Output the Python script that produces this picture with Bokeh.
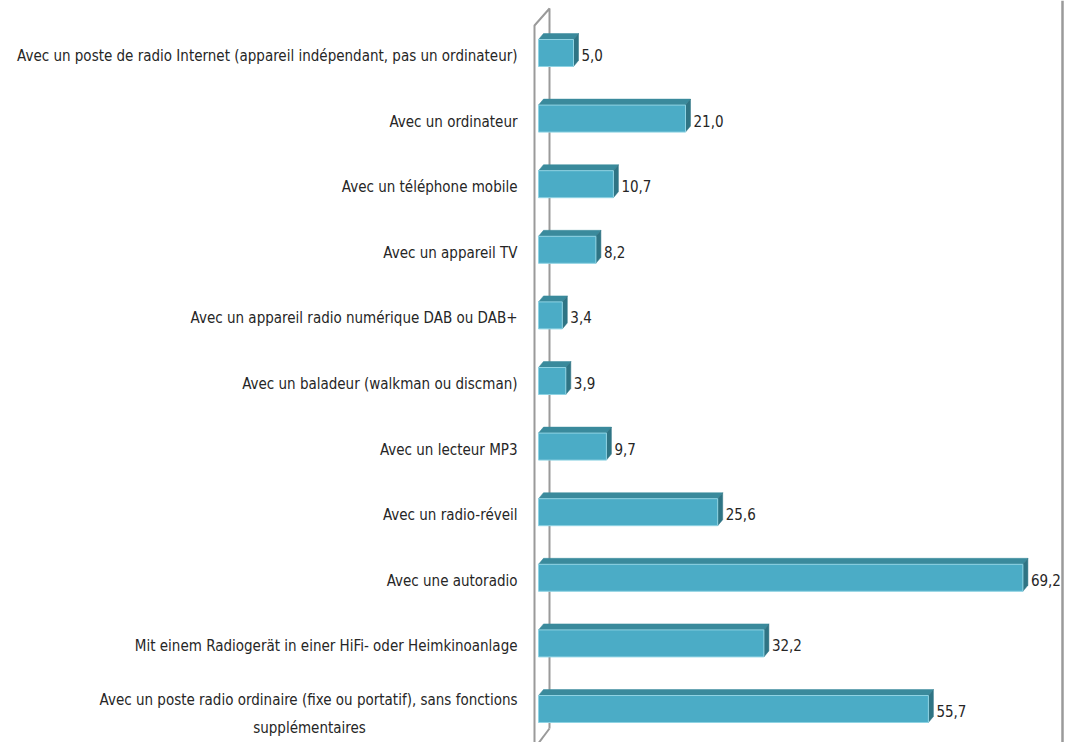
from bokeh.plotting import figure
from bokeh.models import Range1d, ColumnDataSource
from bokeh.embed import file_html
from bokeh.resources import INLINE
from bokeh.core.properties import value

# ---- data (top to bottom) ----
categories = [
    "Avec un poste de radio Internet (appareil indépendant, pas un ordinateur)",
    "Avec un ordinateur",
    "Avec un téléphone mobile",
    "Avec un appareil TV",
    "Avec un appareil radio numérique DAB ou DAB+",
    "Avec un baladeur (walkman ou discman)",
    "Avec un lecteur MP3",
    "Avec un radio-réveil",
    "Avec une autoradio",
    "Mit einem Radiogerät in einer HiFi- oder Heimkinoanlage",
    "Avec un poste radio ordinaire (fixe ou portatif), sans fonctions\nsupplémentaires",
]
values = [5.0, 21.0, 10.7, 8.2, 3.4, 3.9, 9.7, 25.6, 69.2, 32.2, 55.7]
value_labels = [f"{v:.1f}".replace(".", ",") for v in values]

# ---- layout constants (pixels) ----
W, H = 1072, 742
X0_PX = 538          # canvas x of value zero
PX_PER_UNIT = 7.0    # pixels per value unit
Y0_PX = 52.5         # canvas y of first category centre
PX_PER_CAT = 65.6    # pixels between categories
BAR_PX = 27
DEPTH_DX, DEPTH_DY = 5, 6

FONT = "'DejaVu Sans Condensed', Roboto"
FS = "15px"
TXT = "#262626"
FRONT = "#4bacc6"
TOP = "#3a8a9c"
SIDE = "#2f7484"
EDGE = "#8fd3e3"
WALL = "#9a9a9a"

def ux(px):  # pixel distance -> x units
    return px / PX_PER_UNIT

def uy(px):  # pixel distance -> y units
    return px / PX_PER_CAT

x_start = -ux(X0_PX)
x_end = ux(W - X0_PX)
y_top = -uy(Y0_PX)
y_bot = uy(H - Y0_PX)

p = figure(width=W, height=H, output_backend="svg", toolbar_location=None,
           x_range=Range1d(x_start, x_end), y_range=Range1d(y_bot, y_top),
           min_border=0, outline_line_color=None)
p.axis.visible = False
p.grid.visible = False
p.background_fill_color = "white"
p.border_fill_color = "white"

n = len(values)
ys = list(range(n))
h = uy(BAR_PX)
dx = ux(DEPTH_DX)
dy = uy(DEPTH_DY)

# ---- back wall (decorative frame) ----
wl = x_start + ux(534)
wr = x_start + ux(549)
p.line([wl, wl, wr, wr], [y_bot + 1, y_top + uy(25), y_top + uy(8), y_top + uy(728)],
       line_color=WALL, line_width=2)
p.line([wr, wl + ux(3)], [y_top + uy(728), y_top + uy(744)], line_color=WALL, line_width=2)
# right border
rb = x_start + ux(1062)
p.line([rb, rb], [y_top, y_bot], line_color=WALL, line_width=2.5)

# ---- 3D bars ----
top_xs, top_ys, side_xs, side_ys = [], [], [], []
for i, v in zip(ys, values):
    t = i - h / 2
    b = i + h / 2
    top_xs.append([0, v, v + dx, dx])
    top_ys.append([t, t, t - dy, t - dy])
    side_xs.append([v, v + dx, v + dx, v])
    side_ys.append([t, t - dy, b - dy, b])

p.patches(top_xs, top_ys, fill_color=TOP, line_color=TOP, line_width=0.5)
p.patches(side_xs, side_ys, fill_color=SIDE, line_color=SIDE, line_width=0.5)
src = ColumnDataSource(dict(y=ys, v=values, lab=value_labels))
p.hbar(y="y", left=0, right="v", height=h, source=src,
       fill_color=FRONT, line_color=EDGE, line_width=1)

# ---- value labels ----
p.text(x="v", y="y", text="lab", source=src, x_offset=8, y_offset=2,
       text_font=value(FONT), text_font_size=FS, text_color=TXT,
       text_align="left", text_baseline="middle")

# ---- category labels ----
lab_x = x_start + ux(517)
single_y, single_t = [], []
for i, c in zip(ys, categories):
    lines = c.split("\n")
    if len(lines) == 1:
        single_y.append(i)
        single_t.append(c)
    else:
        w1 = len(lines[0]) * 6.5
        p.text(x=[lab_x], y=[i], text=[lines[0]], y_offset=-9,
               text_font=value(FONT), text_font_size=FS, text_color=TXT,
               text_align="right", text_baseline="middle")
        for k, ln in enumerate(lines[1:], start=1):
            p.text(x=[lab_x - ux(w1 / 2)], y=[i], text=[ln], y_offset=-9 + 28 * k,
                   text_font=value(FONT), text_font_size=FS, text_color=TXT,
                   text_align="center", text_baseline="middle")
p.text(x=[lab_x] * len(single_y), y=single_y, text=single_t, y_offset=3,
       text_font=value(FONT), text_font_size=FS, text_color=TXT,
       text_align="right", text_baseline="middle")

open("out.html", "w").write(file_html(p, INLINE))
